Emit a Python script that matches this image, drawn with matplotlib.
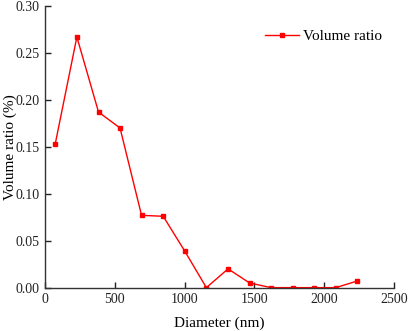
import matplotlib
matplotlib.use("Agg")
import matplotlib.pyplot as plt

diameter = [74, 229, 384, 538, 692, 847, 1001, 1156, 1311, 1465, 1619, 1774, 1928, 2082, 2235]
volume_ratio = [0.153, 0.267, 0.187, 0.170, 0.077, 0.076, 0.039, 0.0, 0.020, 0.005, 0.0, 0.0, 0.0, 0.0, 0.007]
x_ticks = [0, 500, 1000, 1500, 2000, 2500]
y_ticks = [0.00, 0.05, 0.10, 0.15, 0.20, 0.25, 0.30]

plt.rcParams['font.family'] = ['Liberation Serif', 'DejaVu Serif']

fig = plt.figure(figsize=(4.08, 3.31), dpi=100)
ax = fig.add_axes([0.110, 0.131, 0.856, 0.851])
ax.plot(diameter, volume_ratio, color='#ff0000', lw=1.0, marker='s', ms=2.5, label='Volume ratio')
ax.set_xlim(0, 2500)
ax.set_ylim(0, 0.30)
ax.set_xticks(x_ticks)
ax.set_yticks(y_ticks)
ax.set_yticklabels([f"{v:.2f}" for v in y_ticks])
for s in ['top', 'right']:
    ax.spines[s].set_visible(False)
for s in ['left', 'bottom']:
    ax.spines[s].set_linewidth(1.0)
    ax.spines[s].set_color('#333333')
ax.tick_params(direction='in', length=4, width=1, labelsize=10, colors='#222222', pad=4)
ax.set_xlabel('Diameter (nm)', fontsize=11)
ax.xaxis.set_label_coords(0.5, -0.102)
ax.set_ylabel('Volume ratio (%)', fontsize=11)
ax.yaxis.set_label_coords(-0.08, 0.5)
ax.legend(loc='upper right', bbox_to_anchor=(1.005, 0.965), frameon=False, fontsize=11,
          handlelength=2.2, handletextpad=0.3)
fig.savefig('out.png', dpi=100)
